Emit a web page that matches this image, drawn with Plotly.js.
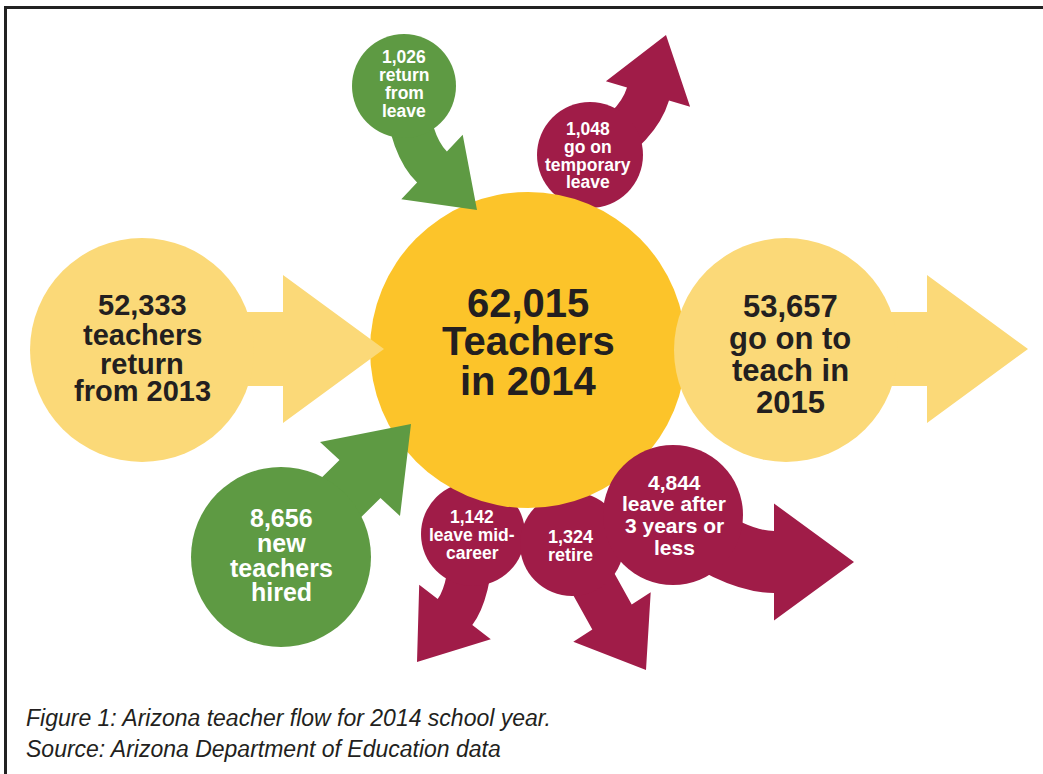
<!DOCTYPE html>
<html>
<head>
<meta charset="utf-8">
<script src="https://cdn.plot.ly/plotly-3.0.1.min.js"></script>
<style>
html,body{margin:0;padding:0;background:#fff;}
#chart{width:1043px;height:774px;}
</style>
</head>
<body>
<div id="chart"></div>
<script>
// ---------- DATA ----------
const flowNames = ["Teachers in 2014", "Return from 2013", "Go on to teach in 2015",
  "Return from leave", "Go on temporary leave", "New teachers hired",
  "Leave mid-career", "Retire", "Leave after 3 years or less"];
const flowValues = [62015, 52333, 53657, 1026, 1048, 8656, 1142, 1324, 4844];
const flowLabelLines = [
  ["Teachers", "in 2014"],
  ["teachers", "return", "from 2013"],
  ["go on to", "teach in", "2015"],
  ["return", "from", "leave"],
  ["go on", "temporary", "leave"],
  ["new", "teachers", "hired"],
  ["leave mid-", "career"],
  ["retire"],
  ["leave after", "3 years or", "less"]
];
const flowKind = ["total", "in", "out", "in", "out", "in", "out", "out", "out"];
const captionLines = ["Figure 1: Arizona teacher flow for 2014 school year.",
  "Source: Arizona Department of Education data"];

// ---------- STYLE / LAYOUT GEOMETRY ----------
const COLORS = {gold: "#FCC42A", pale: "#FBD978", green: "#5E9A43", maroon: "#A01C48",
  dark: "#231F20", white: "#FFFFFF"};
const NARROW = "'Liberation Sans Narrow', 'Arial Narrow', 'Liberation Sans', Arial, sans-serif";
const WIDE = "'Liberation Sans', Arial, sans-serif";
// bubble geometry in pixel space (index-aligned with data arrays)
const bubbleGeom = [
  {cx: 528, cy: 350, r: 158, fill: COLORS.gold, txt: COLORS.dark, font: NARROW, size: 40, tx: 528, ty: [303, 341, 381]},
  {cx: 142, cy: 350, r: 112, fill: COLORS.pale, txt: COLORS.dark, font: NARROW, size: 29, tx: 142, ty: [305, 335, 364, 391],
    arrow: {B: [142, 349], H: [283, 349], T: [384, 349], w: 37, h: 74, k: 0}},
  {cx: 786, cy: 350, r: 112, fill: COLORS.pale, txt: COLORS.dark, font: NARROW, size: 31, tx: 790, ty: [306, 338, 370, 402],
    arrow: {B: [786, 349], H: [927, 349], T: [1028, 349], w: 37, h: 74, k: 0}},
  {cx: 404, cy: 86, r: 52, fill: COLORS.green, txt: COLORS.white, font: WIDE, size: 17.5, tx: 404, ty: [57, 75, 93, 111],
    arrow: {B: [404, 86], H: [432, 167], T: [477, 210], w: 21.5, h: 44.5, k: 30}},
  {cx: 590, cy: 155, r: 53, fill: COLORS.maroon, txt: COLORS.white, font: WIDE, size: 17.5, tx: 588, ty: [129, 147, 165, 182],
    arrow: {B: [590, 155], H: [648, 94], T: [666, 35], w: 22, h: 44, k: 35}},
  {cx: 281, cy: 557, r: 90, fill: COLORS.green, txt: COLORS.white, font: NARROW, size: 25, tx: 281, ty: [518, 543, 568, 592],
    arrow: {B: [281, 557], H: [360, 479], T: [411, 424], w: 28, h: 54.5, k: 0}},
  {cx: 473, cy: 534, r: 52, fill: COLORS.maroon, txt: COLORS.white, font: NARROW, size: 17.5, tx: 472, ty: [517, 535, 553],
    arrow: {B: [473, 534], H: [455, 612], T: [417, 662], w: 21.7, h: 45, k: 25}},
  {cx: 572, cy: 544, r: 52, fill: COLORS.maroon, txt: COLORS.white, font: NARROW, size: 18, tx: 570, ty: [537, 555],
    arrow: {B: [572, 545], H: [612, 617], T: [646, 670], w: 23.4, h: 46, k: 0}},
  {cx: 673, cy: 515, r: 70, fill: COLORS.maroon, txt: COLORS.white, font: NARROW, size: 21, tx: 674, ty: [482, 503, 525, 547],
    arrow: {B: [673, 515], H: [774, 562], T: [854, 562], w: 31, h: 58.5, k: 40}}
];
// drawing order (back to front)
const drawOrder = [4, 6, 7, 0, 1, 2, 8, 3, 5];

// ---------- HELPERS ----------
function norm(v) { const l = Math.hypot(v[0], v[1]); return [v[0] / l, v[1] / l]; }
function add(a, b, s) { return [a[0] + b[0] * s, a[1] + b[1] * s]; }
function cross(a, b) { return a[0] * b[1] - a[1] * b[0]; }
function intersect(P, t, Q, u) {
  const d = cross(t, u);
  if (Math.abs(d) < 1e-6) return [(P[0] + Q[0]) / 2, (P[1] + Q[1]) / 2];
  const s = cross([Q[0] - P[0], Q[1] - P[1]], u) / d;
  return add(P, t, s);
}
function arrowPath(a) {
  const dh = norm([a.T[0] - a.H[0], a.T[1] - a.H[1]]);
  const C = a.k > 0 ? add(a.H, dh, -a.k) : null;
  const tB = C ? norm([C[0] - a.B[0], C[1] - a.B[1]]) : dh;
  const nB = [-tB[1], tB[0]], nH = [-dh[1], dh[0]];
  const f = p => p[0].toFixed(1) + "," + p[1].toFixed(1);
  const pL0 = add(a.B, nB, a.w), pL2 = add(a.H, nH, a.w);
  const pR0 = add(a.B, nB, -a.w), pR2 = add(a.H, nH, -a.w);
  let d = "M" + f(pL0);
  if (C) d += " Q" + f(intersect(pL0, tB, pL2, dh)) + " " + f(pL2); else d += " L" + f(pL2);
  d += " L" + f(add(a.H, nH, a.h)) + " L" + f(a.T) + " L" + f(add(a.H, nH, -a.h)) + " L" + f(pR2);
  if (C) d += " Q" + f(intersect(pR0, tB, pR2, dh)) + " " + f(pR0); else d += " L" + f(pR0);
  return d + " Z";
}
function fmt(v) { return v.toLocaleString("en-US"); }

// ---------- BUILD ----------
const shapes = [];
const annotations = [];
drawOrder.forEach(i => {
  const g = bubbleGeom[i];
  if (g.arrow) {
    shapes.push({type: "path", xref: "x", yref: "y", path: arrowPath(g.arrow),
      fillcolor: g.fill, line: {width: 0}});
  }
  shapes.push({type: "circle", xref: "x", yref: "y", x0: g.cx - g.r, x1: g.cx + g.r,
    y0: g.cy - g.r, y1: g.cy + g.r, fillcolor: g.fill, line: {width: 0}});
});
flowValues.forEach((v, i) => {
  const g = bubbleGeom[i];
  const lines = [fmt(v)].concat(flowLabelLines[i]);
  lines.forEach((t, j) => {
    annotations.push({xref: "x", yref: "y", x: g.tx, y: g.ty[j], text: "<b>" + t + "</b>",
      showarrow: false, xanchor: "center", yanchor: "middle", borderpad: 0,
      font: {family: g.font, size: g.size, color: g.txt}});
  });
});
captionLines.forEach((t, j) => {
  annotations.push({xref: "x", yref: "y", x: 25, y: 718 + j * 31, text: "<i>" + t + "</i>",
    showarrow: false, xanchor: "left", yanchor: "middle", borderpad: 0,
    font: {family: NARROW, size: 23, color: "#231F20"}});
});
// frame
shapes.push({type: "path", xref: "x", yref: "y", path: "M5.5,774 L5.5,7.5 L1043,7.5",
  line: {color: "#222222", width: 3}});

const data = [{x: flowNames.map((_, i) => bubbleGeom[i].cx), y: flowNames.map((_, i) => bubbleGeom[i].cy),
  text: flowNames, customdata: flowValues, type: "scatter", mode: "markers",
  marker: {opacity: 0, size: 1}, hovertemplate: "%{text}: %{customdata:,}<extra></extra>", showlegend: false}];

const layout = {
  width: 1043, height: 774,
  margin: {l: 0, r: 0, t: 0, b: 0},
  paper_bgcolor: "#ffffff", plot_bgcolor: "#ffffff",
  xaxis: {range: [0, 1043], visible: false, fixedrange: true},
  yaxis: {range: [774, 0], visible: false, fixedrange: true},
  shapes: shapes, annotations: annotations, showlegend: false
};
Plotly.newPlot("chart", data, layout, {displayModeBar: false, staticPlot: true});
</script>
</body>
</html>
